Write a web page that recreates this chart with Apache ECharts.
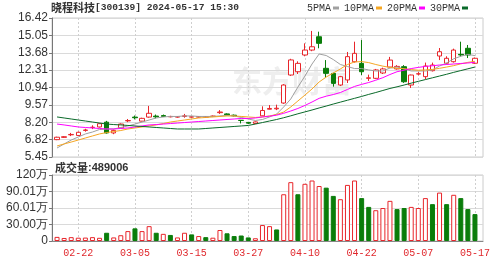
<!DOCTYPE html>
<html><head><meta charset="utf-8">
<script src="https://cdn.jsdelivr.net/npm/echarts@6/dist/echarts.min.js"></script>
<style>html,body{margin:0;padding:0;background:#fff}#c{width:503px;height:262px}</style>
</head><body><div id="c"></div>
<script>
const dates = ['02-19','02-20','02-21','02-22','02-23','02-26','02-27','02-28','02-29','03-01',
'03-04','03-05','03-06','03-07','03-08','03-11','03-12','03-13','03-14','03-15',
'03-18','03-19','03-20','03-21','03-22','03-25','03-26','03-27','03-28','03-29',
'04-01','04-02','04-03','04-08','04-09','04-10','04-11','04-12','04-15','04-16',
'04-17','04-18','04-19','04-22','04-23','04-24','04-25','04-26','04-29','04-30',
'05-06','05-07','05-08','05-09','05-10','05-13','05-14','05-15','05-16','05-17'];
const opens = [6.82,7.00,7.20,7.15,7.55,7.78,7.82,8.20,7.35,7.75,8.30,8.60,8.28,8.60,8.68,8.72,8.62,8.60,8.65,8.60,
8.60,8.60,8.65,8.95,8.85,8.75,8.35,8.18,8.10,8.70,9.22,9.25,9.71,11.92,12.18,13.50,13.89,14.94,12.45,12.05,
11.13,11.53,12.97,12.84,11.66,11.66,12.08,12.55,12.40,12.58,11.13,12.00,11.79,12.26,13.42,12.85,12.97,13.55,14.03,12.85];
const closes = [7.01,7.05,7.23,7.40,7.58,7.80,8.08,7.35,7.55,8.05,8.33,8.55,8.50,8.90,8.62,8.65,8.65,8.63,8.70,8.62,
8.63,8.62,8.68,9.00,8.78,8.70,8.33,8.12,8.22,9.12,9.28,9.30,11.13,13.11,12.84,13.89,14.15,14.42,12.05,11.26,
11.79,13.37,13.63,12.18,11.70,12.32,12.40,13.10,12.60,11.39,11.92,12.02,12.63,12.71,13.76,13.24,13.89,13.50,13.50,13.24];
const lows = [6.78,6.95,7.10,7.10,7.45,7.65,7.78,7.30,7.25,7.72,8.20,8.42,8.25,8.55,8.50,8.60,8.58,8.55,8.55,8.55,
8.56,8.56,8.60,8.85,8.75,8.65,8.10,8.05,8.05,8.68,9.20,9.15,9.65,11.85,12.00,13.40,13.80,14.03,11.68,11.00,
11.05,11.29,12.90,11.92,11.45,11.60,12.00,12.50,12.35,11.30,10.90,11.90,11.60,12.20,13.10,12.75,12.90,13.37,13.26,12.80];
const highs = [7.05,7.10,7.35,7.45,7.68,7.95,8.12,8.30,7.62,8.10,8.45,8.72,8.55,9.48,8.80,8.80,8.70,8.68,8.85,8.66,
8.67,8.66,8.72,9.15,8.90,8.80,8.36,8.22,8.26,9.45,9.55,9.58,11.20,13.20,13.00,14.42,15.40,15.34,13.10,12.10,
11.85,13.74,14.55,14.68,11.95,12.40,12.50,13.35,12.70,12.70,11.95,12.15,12.90,12.90,14.05,13.40,14.00,14.55,14.29,13.30];
const ma5 = [6.16,6.48,6.79,7.03,7.27,7.42,7.62,7.66,7.66,7.78,7.90,8.05,8.21,8.37,8.53,8.61,8.65,8.65,8.69,8.69,
8.65,8.65,8.65,8.69,8.73,8.69,8.57,8.45,8.33,8.41,8.61,8.84,9.40,10.03,10.97,11.84,12.79,13.58,13.46,13.14,
12.75,12.59,12.43,12.43,12.32,12.24,12.24,12.47,12.55,12.40,12.24,12.24,12.24,12.32,12.63,12.87,13.20,13.40,13.55,13.45];
const ma10 = [6.32,6.48,6.63,6.79,6.95,7.11,7.27,7.38,7.46,7.54,7.66,7.74,7.82,7.90,7.98,8.09,8.21,8.29,8.37,8.45,
8.53,8.57,8.61,8.65,8.69,8.69,8.65,8.61,8.57,8.61,8.69,8.80,9.00,9.40,9.87,10.34,10.82,11.37,11.76,12.08,
12.40,12.75,12.95,12.98,12.90,12.75,12.62,12.52,12.45,12.42,12.35,12.30,12.32,12.36,12.45,12.55,12.66,12.80,12.92,13.00];
const ma20 = [8.05,7.98,7.90,7.82,7.78,7.74,7.70,7.66,7.66,7.70,7.74,7.82,7.90,7.98,8.01,8.05,8.09,8.13,8.17,8.21,
8.25,8.29,8.33,8.37,8.41,8.45,8.49,8.49,8.53,8.61,8.67,8.75,8.90,9.08,9.28,9.52,9.79,10.08,10.25,10.38,
10.54,10.78,11.02,11.18,11.33,11.51,11.71,11.96,12.18,12.30,12.43,12.52,12.60,12.65,12.71,12.75,12.79,12.83,12.87,12.92];
const ma30 = [8.61,8.53,8.45,8.37,8.29,8.21,8.13,8.05,8.01,7.98,7.94,7.90,7.86,7.82,7.78,7.74,7.70,7.66,7.66,7.66,
7.66,7.70,7.74,7.78,7.82,7.86,7.90,7.94,8.05,8.17,8.29,8.41,8.55,8.70,8.86,9.01,9.16,9.32,9.47,9.63,
9.78,9.93,10.08,10.23,10.39,10.54,10.70,10.86,10.99,11.13,11.28,11.42,11.56,11.70,11.84,11.98,12.13,12.27,12.41,12.55];
const volumes = [75000,55000,70000,60000,62000,70000,58000,150000,65000,105000,180000,230000,180000,270000,150000,130000,110000,65000,150000,120000,
90000,70000,60000,200000,140000,90000,100000,65000,50000,290000,270000,210000,850000,1070000,850000,1040000,1100000,1000000,970000,820000,
760000,1020000,1100000,780000,620000,560000,600000,730000,580000,600000,620000,600000,780000,670000,880000,670000,840000,780000,580000,489006];
const volUp = [1,1,1,1,1,1,1,0,1,1,1,0,1,1,0,1,0,1,1,0,1,0,1,1,0,0,0,0,1,1,1,0,1,1,0,1,1,1,0,0,1,1,1,0,0,1,1,1,0,0,1,1,1,0,1,0,1,0,0,0];
const priceTicks = ['5.45','6.82','8.20','9.57','10.94','12.31','13.68','15.05','16.42'];
const volTicks = ['0','30.00万','60.01万','90.01万','120万'];
const priceMin = 5.45, priceMax = 16.42, volMax = 1200150;
const stockTitle = '晓程科技', stockMeta = '[300139] 2024-05-17 15:30';
const volLabel = '成交量', volLast = ':489006';

const chart = echarts.init(document.getElementById('c'));
const candleData = opens.map((o, i) => [o, closes[i], lows[i], highs[i]]);
const volData = volumes.map((v, i) => ({
  value: v,
  itemStyle: volUp[i] ? {color: '#fff', borderColor: '#e8262b', borderWidth: 1}
                      : {color: '#0a7d0a', borderColor: '#0a7d0a', borderWidth: 1}
}));
const every8 = (i) => (i - 3) % 8 === 0;
const mono = 'Liberation Mono';
const splitDash = {show: true, interval: every8, alignWithLabel: true, lineStyle: {color: '#cfcfcf', type: [2, 2], width: 1}};
const hGrid = {show: true, lineStyle: {color: '#dadada', width: 1}};
const lab = {color: '#333', fontSize: 12, fontFamily: 'Liberation Sans', margin: 4};

const option = {
  animation: false,
  backgroundColor: '#fff',
  title: [
    {left: 51, top: 2, padding: 0, text: '{a|' + stockTitle + '}{b|' + stockMeta + '}',
     textStyle: {rich: {a: {fontFamily: 'Noto Sans CJK SC', fontSize: 11, color: '#333'},
                        b: {fontFamily: mono, fontSize: 9.6, color: '#333'}}}},
    {left: 55, top: 162, padding: 0, text: '{a|' + volLabel + '}{b|' + volLast + '}',
     textStyle: {rich: {a: {fontFamily: 'Noto Sans CJK SC', fontSize: 11, color: '#333'},
                        b: {fontFamily: 'Liberation Sans', fontSize: 11, color: '#333'}}}}
  ],
  legend: {
    left: 307, top: 3, padding: 0, itemGap: 5, itemWidth: 6, itemHeight: 3, align: 'right', icon: 'rect',
    textStyle: {fontFamily: mono, fontSize: 10, color: '#333', padding: [0, -3, 0, 0]},
    data: ['5PMA', '10PMA', '20PMA', '30PMA']
  },
  graphic: [{type: 'text', left: 232, top: 66, z: -10, silent: true,
    style: {text: '东方财富', fill: '#eeeeee', font: 'bold 30px "Noto Sans CJK SC"'}}],
  grid: [
    {left: 53.5, width: 425, top: 18, height: 139},
    {left: 53.5, width: 425, top: 175, height: 66},
    {left: 52, width: 431, top: 18, height: 139, show: true, borderColor: '#cccccc', borderWidth: 1},
    {left: 52, width: 431, top: 175, height: 66, show: true, borderColor: '#cccccc', borderWidth: 1}
  ],
  xAxis: [
    {type: 'category', gridIndex: 0, data: dates, boundaryGap: true,
     axisLine: {show: false}, axisTick: {show: false}, axisLabel: {show: false}, splitLine: splitDash},
    {type: 'category', gridIndex: 1, data: dates, boundaryGap: true,
     axisLine: {show: false}, axisTick: {show: false},
     axisLabel: {interval: every8, color: '#e0282d', fontFamily: mono, fontSize: 10, margin: 7},
     splitLine: splitDash},
    {type: 'value', gridIndex: 2, min: 0, max: 1, show: false},
    {type: 'value', gridIndex: 3, min: 0, max: 1, axisLabel: {show: false}, axisTick: {show: false},
     splitLine: {show: false}, axisLine: {show: true, lineStyle: {color: '#888'}}}
  ],
  yAxis: [
    {type: 'value', gridIndex: 0, min: priceMin, max: priceMax, show: false, scale: true},
    {type: 'value', gridIndex: 1, min: 0, max: volMax, show: false},
    {type: 'value', gridIndex: 2, min: 0, max: priceTicks.length - 1, interval: 1,
     axisLine: {show: true, lineStyle: {color: '#777'}},
     axisTick: {show: true, length: 3, lineStyle: {color: '#777'}},
     axisLabel: Object.assign({formatter: (v) => priceTicks[v]}, lab), splitLine: hGrid},
    {type: 'value', gridIndex: 3, min: 0, max: volTicks.length - 1, interval: 1,
     axisLine: {show: true, lineStyle: {color: '#777'}},
     axisTick: {show: true, length: 3, lineStyle: {color: '#777'}},
     axisLabel: Object.assign({formatter: (v) => volTicks[v]}, lab), splitLine: hGrid}
  ],
  series: [
    {type: 'candlestick', name: 'K', xAxisIndex: 0, yAxisIndex: 0, data: candleData, barWidth: 5,
     itemStyle: {color: '#fff', color0: '#0a7d0a', borderColor: '#e8262b', borderColor0: '#0a7d0a', borderWidth: 1}},
    {type: 'line', name: '5PMA', xAxisIndex: 0, yAxisIndex: 0, data: ma5, symbol: 'none', color: '#a0a0a0', lineStyle: {width: 1}},
    {type: 'line', name: '10PMA', xAxisIndex: 0, yAxisIndex: 0, data: ma10, symbol: 'none', color: '#f5a623', lineStyle: {width: 1}},
    {type: 'line', name: '20PMA', xAxisIndex: 0, yAxisIndex: 0, data: ma20, symbol: 'none', color: '#ff00ff', lineStyle: {width: 1}},
    {type: 'line', name: '30PMA', xAxisIndex: 0, yAxisIndex: 0, data: ma30, symbol: 'none', color: '#0a6a2a', lineStyle: {width: 1}},
    {type: 'bar', name: 'VOL', xAxisIndex: 1, yAxisIndex: 1, data: volData, barWidth: 5}
  ]
};
chart.setOption(option);
</script></body></html>
